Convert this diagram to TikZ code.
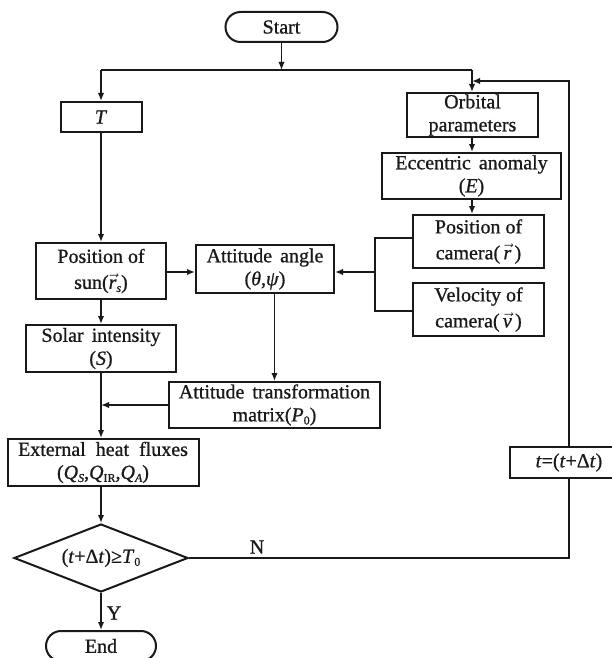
\documentclass[tikz,border=0pt]{standalone}
\usepackage{fontspec}
\setmainfont[FakeBold=0.8]{Liberation Serif}
\usetikzlibrary{arrows.meta,shapes.geometric}
\newcommand{\vecit}[1]{\ensuremath{\vec{\mbox{\itshape #1}}}}
\newcommand{\lowsub}[1]{\raisebox{-3pt}{\fontsize{12}{12}\selectfont #1}}
\begin{document}
\begin{tikzpicture}[x=1pt,y=-1pt,
  every node/.style={font=\fontsize{20}{23}\selectfont, text=black!90},
  box/.style={draw=black!90, line width=2pt, inner sep=0pt, align=center},
  wide/.style={font=\fontsize{20}{26}\selectfont},
  arr/.style={draw=black!90, line width=1.8pt, -{Latex[length=8pt,width=6.5pt]}},
  ln/.style={draw=black!90, line width=1.8pt}]
\useasboundingbox (0,0) rectangle (611,658);
\fill[white] (0,0) rectangle (611,658);
% nodes
\node[box, rounded corners=15pt, minimum width=112pt, minimum height=30pt] (start) at (281.5,27) {Start};
\node[box, minimum width=81pt, minimum height=30pt] (T) at (101,117) {\textit{T}};
\node[box, minimum width=131pt, minimum height=44pt] (orb) at (472.5,115) {Orbital\\parameters};
\node[box, minimum width=179pt, minimum height=46pt] (ecc) at (471.5,176) {Eccentric\hspace{0.4em}anomaly\\(\textit{E})};
\node[box, wide, minimum width=131pt, minimum height=53pt] (pos) at (478.5,241.5) {Position of\\camera(\,\vecit{r}\,)};
\node[box, wide, minimum width=131pt, minimum height=53pt] (vel) at (478.5,309.5) {Velocity of\\camera(\,\vecit{v}\,)};
\node[box, wide, minimum width=130pt, minimum height=56pt] (sun) at (101,271) {Position of\\sun(\vecit{r}\lowsub{\itshape s})};
\node[box, minimum width=138pt, minimum height=48pt] (att) at (265,269) {Attitude\hspace{0.4em}angle\\(\textit{θ},\textit{ψ})};
\node[box, minimum width=150pt, minimum height=47pt] (sol) at (101,348.5) {Solar\hspace{0.4em}intensity\\(\textit{S})};
\node[box, minimum width=211pt, minimum height=46pt] (atm) at (274.5,405) {Attitude\hspace{0.4em}transformation\\matrix(\textit{P}\lowsub{0})};
\node[box, minimum width=191pt, minimum height=47pt] (ext) at (103,462.5) {External\hspace{0.5em}heat\hspace{0.5em}fluxes\\(\textit{Q}\lowsub{\itshape S},\textit{Q}\lowsub{IR},\textit{Q}\lowsub{\itshape A})};
\node[box, diamond, aspect=2.56, minimum width=174pt, minimum height=68pt] (dia) at (101,558) {(\textit{t}+Δ\textit{t})≥\textit{T}\lowsub{0}};
\node[box, minimum width=118pt, minimum height=31pt] (tb) at (569,462.5) {\textit{t}=(\textit{t}+Δ\textit{t})};
\node[box, rounded corners=15pt, minimum width=110pt, minimum height=30pt] (end) at (101,646) {End};
\node (nlab) at (257,547) {N};
\node (ylab) at (114,613) {Y};
% junction coordinates
\coordinate (j) at (281.5,70);
\coordinate (jl) at (101,70);
\coordinate (jr) at (472,70);
\coordinate (fb) at (569,81);
\coordinate (bt) at (375,238);
\coordinate (bb) at (375,311);
\coordinate (bm) at (375,272);
% connectors
\draw[arr] (start.south) -- (j);
\draw[ln] (jl) -- (jr);
\draw[arr] (jl) -- (T.north);
\draw[arr] (jr) -- (jr |- orb.north);
\draw[arr] (tb.north) -- (fb) -- (jr |- fb);
\draw[arr] (jr |- orb.south) -- (jr |- ecc.north);
\draw[arr] (jr |- ecc.south) -- (jr |- pos.north);
\draw[ln] (pos.west |- bt) -- (bt) -- (bb) -- (vel.west |- bb);
\draw[arr] (bm) -- (att.east |- bm);
\draw[arr] (T.south) -- (sun.north);
\draw[arr] (sun.south) -- (sol.north);
\draw[arr] (sun.east |- bm) -- (att.west |- bm);
\draw[arr] (atm.north |- att.south) -- (atm.north);
\draw[arr] (sol.south) -- (ext.north -| sol.south);
\draw[arr] (atm.west) -- (sol.south |- atm.west);
\draw[arr] (ext.south -| dia.north) -- (dia.north);
\draw[ln] (dia.east) -- (tb.south |- dia.east) -- (tb.south);
\draw[arr] (dia.south) -- (end.north);
\end{tikzpicture}
\end{document}
